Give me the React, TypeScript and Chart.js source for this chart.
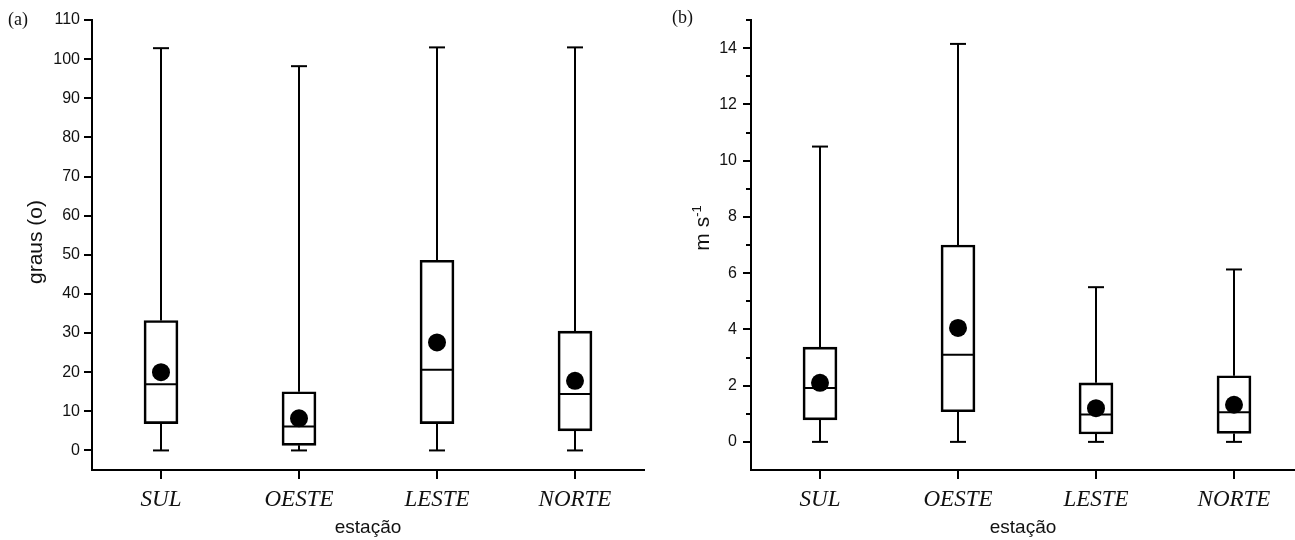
import React, { useEffect, useRef } from 'react';
import { Chart, registerables } from 'chart.js';

Chart.register(...registerables);

// ---- data ----
const categories = ['SUL', 'OESTE', 'LESTE', 'NORTE'];

// (a) graus
const anguloMin = [0, 0, 0, 0];
const anguloQ1 = [6.85, 1.3, 6.85, 5.0];
const anguloMedian = [16.9, 6.1, 20.6, 14.4];
const anguloQ3 = [33.2, 15.0, 48.6, 30.5];
const anguloMax = [102.8, 98.2, 103.0, 103.0];
const anguloMean = [20.0, 8.2, 27.6, 17.8];

// (b) m s-1
const velMin = [0, 0, 0, 0];
const velQ1 = [0.78, 1.07, 0.28, 0.3];
const velMedian = [1.92, 3.1, 0.97, 1.05];
const velQ3 = [3.37, 7.0, 2.1, 2.35];
const velMax = [10.5, 14.15, 5.5, 6.13];
const velMean = [2.1, 4.05, 1.2, 1.32];

const anguloTicks = [0, 10, 20, 30, 40, 50, 60, 70, 80, 90, 100, 110];
const velTicks = [0, 2, 4, 6, 8, 10, 12, 14];
const velMinorTicks = [1, 3, 5, 7, 9, 11, 13, 15];

const SANS = '"Liberation Sans", Arial, sans-serif';
const SERIF = '"Liberation Serif", "Times New Roman", serif';
const INK = '#111';
const LW = 2;

// draws category tick marks on the x axis and minor ticks on the y axis
function makeAxisMarks(minor: number[]) {
  return {
    id: 'axisMarks',
    afterDraw(chart: any) {
      const x = chart.scales.x;
      const y = chart.scales.y;
      const area = chart.chartArea;
      const ctx = chart.ctx;
      ctx.save();
      ctx.fillStyle = '#000';
      categories.forEach((_, i) => {
        const px = Math.round(x.getPixelForValue(i));
        ctx.fillRect(px - 1, Math.round(area.bottom), 2, 9);
      });
      minor.forEach((v) => {
        const py = Math.round(y.getPixelForValue(v));
        ctx.fillRect(Math.round(area.left) - 5, py - 1, 5, 2);
      });
      ctx.restore();
    },
  };
}

interface Panel {
  min: number[];
  q1: number[];
  median: number[];
  q3: number[];
  max: number[];
  mean: number[];
  yMin: number;
  yMax: number;
  yTicks: number[];
  minor: number[];
  xMax: number;
  yAxisWidth: number;
  tickPad: number;
  padRight: number;
}

function makeConfig(p: Panel): any {
  const whisker: any[] = [];
  categories.forEach((_, i) => {
    whisker.push({ x: i, y: p.min[i] }, { x: i, y: p.q1[i] }, { x: i, y: null });
    whisker.push({ x: i, y: p.q3[i] }, { x: i, y: p.max[i] }, { x: i, y: null });
  });
  const caps: any[] = [];
  categories.forEach((_, i) => {
    caps.push({ x: i, y: p.min[i] }, { x: i, y: p.max[i] });
  });
  return {
    type: 'bar',
    data: {
      datasets: [
        {
          type: 'line',
          data: whisker,
          borderColor: '#000',
          borderWidth: LW,
          pointRadius: 0,
          spanGaps: false,
          fill: false,
          order: 5,
        },
        {
          type: 'bar',
          data: categories.map((_, i) => ({ x: i, y: [p.q1[i], p.q3[i]] })),
          backgroundColor: 'rgba(255,255,255,0)',
          borderColor: '#000',
          borderWidth: LW,
          borderSkipped: false,
          barThickness: 34,
          order: 4,
        },
        {
          type: 'scatter',
          data: categories.map((_, i) => ({ x: i, y: p.median[i] })),
          pointStyle: 'line',
          pointRadius: 17,
          borderColor: '#000',
          borderWidth: LW,
          order: 3,
        },
        {
          type: 'scatter',
          data: caps,
          pointStyle: 'line',
          pointRadius: 8,
          borderColor: '#000',
          borderWidth: LW,
          order: 2,
        },
        {
          type: 'scatter',
          data: categories.map((_, i) => ({ x: i, y: p.mean[i] })),
          pointStyle: 'circle',
          pointRadius: 9,
          backgroundColor: '#000',
          borderWidth: 0,
          order: 1,
        },
      ],
    },
    options: {
      responsive: false,
      animation: false,
      events: [],
      layout: { autoPadding: false, padding: { top: 20, left: 0, right: p.padRight, bottom: 0 } },
      plugins: {
        legend: { display: false },
        tooltip: { enabled: false },
      },
      scales: {
        x: {
          type: 'linear',
          min: -0.5,
          max: p.xMax,
          offset: false,
          afterBuildTicks: (s: any) => {
            s.ticks = categories.map((_, i) => ({ value: i }));
          },
          afterFit: (s: any) => {
            s.height = 70;
            s.paddingLeft = 0;
            s.paddingRight = 0;
          },
          grid: { display: false },
          border: { display: true, color: '#000', width: LW },
          ticks: {
            autoSkip: false,
            maxRotation: 0,
            padding: 8,
            color: INK,
            font: { family: SERIF, style: 'italic', size: 23 },
            callback: (v: any) => categories[v as number] ?? '',
          },
          title: {
            display: true,
            text: 'estação',
            color: INK,
            font: { family: SANS, size: 19 },
            padding: { top: 0, bottom: 1 },
          },
        },
        y: {
          type: 'linear',
          min: p.yMin,
          max: p.yMax,
          offset: false,
          afterBuildTicks: (s: any) => {
            s.ticks = p.yTicks.map((v) => ({ value: v }));
          },
          afterFit: (s: any) => {
            s.width = p.yAxisWidth;
          },
          grid: {
            display: true,
            offset: false,
            drawOnChartArea: false,
            drawTicks: true,
            tickLength: 8,
            color: '#000',
            lineWidth: LW,
          },
          border: { display: true, color: '#000', width: LW },
          ticks: {
            padding: p.tickPad,
            color: INK,
            font: { family: SANS, size: 16 },
          },
          title: { display: false },
        },
      },
    },
    plugins: [makeAxisMarks(p.minor)],
  };
}

const panelA: Panel = {
  min: anguloMin,
  q1: anguloQ1,
  median: anguloMedian,
  q3: anguloQ3,
  max: anguloMax,
  mean: anguloMean,
  yMin: -5,
  yMax: 110,
  yTicks: anguloTicks,
  minor: [],
  xMax: 3.5,
  yAxisWidth: 92,
  tickPad: 4,
  padRight: 1,
};

const panelB: Panel = {
  min: velMin,
  q1: velQ1,
  median: velMedian,
  q3: velQ3,
  max: velMax,
  mean: velMean,
  yMin: -1,
  yMax: 15,
  yTicks: velTicks,
  minor: velMinorTicks,
  xMax: -0.5 + 544 / 138,
  yAxisWidth: 106,
  tickPad: 6,
  padRight: 0,
};

function BoxChart({ panel, width, height }: { panel: Panel; width: number; height: number }) {
  const ref = useRef<HTMLCanvasElement | null>(null);
  useEffect(() => {
    if (!ref.current) return;
    const chart = new Chart(ref.current, makeConfig(panel));
    return () => chart.destroy();
  }, [panel]);
  return <canvas ref={ref} width={width} height={height} style={{ display: 'block' }} />;
}

const panelLabelStyle: React.CSSProperties = {
  position: 'absolute',
  fontFamily: SERIF,
  fontSize: 18,
  lineHeight: '20px',
  color: INK,
};

const yTitleStyle = (cx: number, cy: number): React.CSSProperties => ({
  position: 'absolute',
  left: cx,
  top: cy,
  transform: 'translate(-50%, -50%) rotate(-90deg)',
  fontFamily: SANS,
  fontSize: 21,
  lineHeight: '24px',
  whiteSpace: 'nowrap',
  color: INK,
});

export default function App() {
  return (
    <div
      style={{
        position: 'fixed',
        left: 0,
        top: 0,
        width: 1295,
        height: 540,
        background: '#fff',
        overflow: 'hidden',
      }}
    >
      <div style={{ position: 'absolute', left: 0, top: 0 }}>
        <BoxChart panel={panelA} width={645} height={540} />
      </div>
      <div style={{ position: 'absolute', left: 645, top: 0 }}>
        <BoxChart panel={panelB} width={650} height={540} />
      </div>
      <div style={{ ...panelLabelStyle, left: 8, top: 9 }}>(a)</div>
      <div style={{ ...panelLabelStyle, left: 672, top: 7 }}>(b)</div>
      <div style={yTitleStyle(35, 242)}>graus (o)</div>
      <div style={yTitleStyle(702, 228)}>
        m s<sup style={{ fontSize: 13, verticalAlign: 'super', lineHeight: 0 }}>-1</sup>
      </div>
    </div>
  );
}
